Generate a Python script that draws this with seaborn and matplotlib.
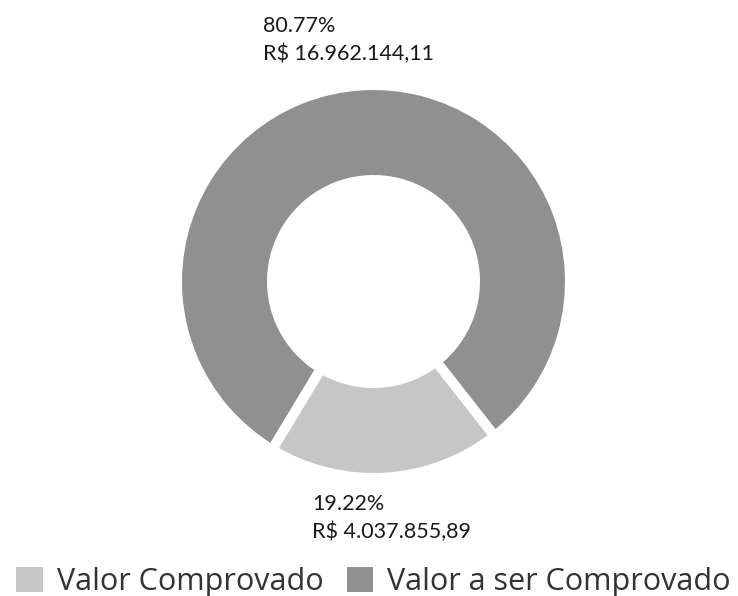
import matplotlib.pyplot as plt
import seaborn as sns
from matplotlib.patches import Patch

categories = ['Valor Comprovado', 'Valor a ser Comprovado']
values = [4037855.89, 16962144.11]
percent_labels = ['19.22%', '80.77%']
money_labels = ['R$ 4.037.855,89', 'R$ 16.962.144,11']
colors = ['#c6c6c6', '#909090']

sns.set_theme(style='white')
plt.rcParams['font.family'] = ['Lato', 'DejaVu Sans']

fig = plt.figure(figsize=(7.38, 5.96), dpi=100)
W, H = 738, 596
cx, cy, r = 373.5, 281.5, 191.5
ax = fig.add_axes([(cx - r) / W, (H - cy - r) / H, 2 * r / W, 2 * r / H])

share = values[0] / sum(values) * 360
ax.pie(values, colors=colors, startangle=-86.5 - share / 2, counterclock=True,
       radius=1.026,
       wedgeprops=dict(width=0.496, edgecolor='white', linewidth=7.2))
ax.set_xlim(-1, 1)
ax.set_ylim(-1, 1)
ax.axis('off')

# labels (top: dark slice, bottom: light slice)
ax.text((263 - cx) / r, (cy - 16) / r, percent_labels[1] + '\n' + money_labels[1],
        ha='left', va='top', fontsize=15.5, color='#1a1a1a', linespacing=1.45, clip_on=False)
ax.text((312 - cx) / r, (cy - 494) / r, percent_labels[0] + '\n' + money_labels[0],
        ha='left', va='top', fontsize=15.5, color='#1a1a1a', linespacing=1.45, clip_on=False)

handles = [Patch(facecolor=c, edgecolor='none') for c in colors]
fig.legend(handles, categories, loc='center', bbox_to_anchor=(373.5 / W, 1 - 582 / H), ncol=2,
           frameon=False, handlelength=0.88, handleheight=0.88,
           handletextpad=0.45, columnspacing=0.75, borderpad=0, borderaxespad=0,
           prop={'family': 'Open Sans', 'size': 22})
for t in fig.legends[0].get_texts():
    t.set_color('#333333')

fig.savefig('out.png', dpi=100)
